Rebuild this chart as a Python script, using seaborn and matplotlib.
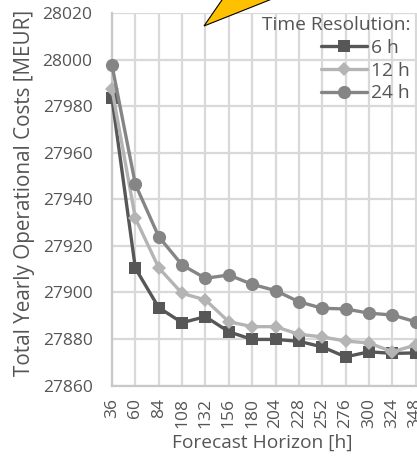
import numpy as np
import pandas as pd
import matplotlib
matplotlib.use("Agg")
import matplotlib.pyplot as plt
from matplotlib.patches import Polygon
import seaborn as sns

horizons = [36, 60, 84, 108, 132, 156, 180, 204, 228, 252, 276, 300, 324, 348]
cost_6h = [27983.5, 27910.4, 27893.5, 27887.0, 27889.6, 27883.1, 27879.8, 27879.8,
           27879.0, 27876.6, 27872.3, 27874.5, 27873.8, 27874.0]
cost_12h = [27987.4, 27931.9, 27910.6, 27899.6, 27896.8, 27887.4, 27885.3, 27885.3,
            27882.0, 27880.9, 27879.1, 27878.3, 27874.5, 27877.4]
cost_24h = [27997.6, 27946.5, 27924.0, 27911.8, 27906.1, 27907.5, 27903.5, 27900.8,
            27896.0, 27893.2, 27892.9, 27891.1, 27890.3, 27887.4]
series_names = ["6 h", "12 h", "24 h"]
yticks = [27860, 27880, 27900, 27920, 27940, 27960, 27980, 28000, 28020]

sns.set_theme(style="white")
FAM = 'Open Sans'
plt.rcParams['font.family'] = [FAM, 'DejaVu Sans']

W, H = 417, 457
fig = plt.figure(figsize=(W / 100, H / 100), dpi=100)
renderer = fig.canvas.get_renderer()


def fit_size(text, target_px, base=12.0):
    t = fig.text(0, 0, text, fontsize=base, family=FAM)
    w = t.get_window_extent(renderer=renderer).width
    t.remove()
    return base * target_px / w


fs_tick = fit_size("28020", 50)
fs_ylab = fit_size("Total Yearly Operational Costs [MEUR]", 365)
fs_xlab = fit_size("Forecast Horizon [h]", 180)
fs_leg = fit_size("Time Resolution:", 148)

rows = []
for name, vals in zip(series_names, [cost_6h, cost_12h, cost_24h]):
    for i, (h, v) in enumerate(zip(horizons, vals)):
        rows.append({"pos": i, "horizon": h, "cost": v, "res": name})
df = pd.DataFrame(rows)

px = 23.36
ax_left, ax_top, ax_bottom = 112, 13.3, 385.5
n_span = 14
ax = fig.add_axes([ax_left / W, 1 - ax_bottom / H, n_span * px / W, (ax_bottom - ax_top) / H])

palette = {"6 h": "#575757", "12 h": "#b4b4b4", "24 h": "#858585"}
markers = {"6 h": "s", "12 h": "D", "24 h": "o"}
sizes_m = {"6 h": 8.5, "12 h": 7, "24 h": 9.5}

for name in series_names:
    sub = df[df.res == name]
    sns.lineplot(data=sub, x="pos", y="cost", ax=ax, color=palette[name],
                 marker=markers[name], markersize=sizes_m[name],
                 markeredgecolor=palette[name], markeredgewidth=0,
                 linewidth=2.4, label=name, clip_on=False, zorder=3)

ax.set_xlim(0, n_span)
ax.set_ylim(27860, 28020)
ax.set_yticks(yticks)
ax.set_xticks(range(len(horizons)))
ax.set_xticklabels([str(h) for h in horizons], rotation=90)
txtc = "#555555"
ax.tick_params(axis="both", length=0, labelsize=fs_tick, labelcolor=txtc)
ax.tick_params(axis="y", pad=14)
ax.tick_params(axis="x", pad=9)

ax.grid(True, color="#d9d9d9", linewidth=1.6)
ax.set_axisbelow(True)
for s in ["top", "right"]:
    ax.spines[s].set_visible(False)
for s in ["left", "bottom"]:
    ax.spines[s].set_color("#c8c8c8")
    ax.spines[s].set_linewidth(1.6)

ax.set_xlabel("Forecast Horizon [h]", fontsize=fs_xlab, color=txtc)
ax.set_ylabel("Total Yearly Operational Costs [MEUR]", fontsize=fs_ylab, color=txtc)
ax.xaxis.set_label_coords((262 - ax_left) / (n_span * px), (ax_bottom - 434) / (ax_bottom - ax_top))
ax.yaxis.set_label_coords((35 - ax_left) / (n_span * px), (ax_bottom - 192.5) / (ax_bottom - ax_top))

leg = ax.legend(title="Time Resolution:", loc="upper right",
                bbox_to_anchor=(410 / W, 1 - 16 / H), bbox_transform=fig.transFigure,
                frameon=False, fontsize=fs_leg, title_fontsize=fs_leg,
                handlelength=2.4, handletextpad=0.2, labelspacing=0.25,
                borderaxespad=0, borderpad=0, alignment="right", markerfirst=True)
for t in leg.get_texts():
    t.set_color(txtc)
leg.get_title().set_color(txtc)

# yellow callout arrow (cropped at top)
arrow = Polygon([(204 / W, 1 - 26 / H), (224 / W, 1 + 3 / H), (277 / W, 1 + 3 / H)],
                closed=True, transform=fig.transFigure, facecolor="#FFC000",
                edgecolor="black", linewidth=0.8, clip_on=False, zorder=10)
fig.patches.append(arrow)

fig.savefig("out.png", dpi=100)
